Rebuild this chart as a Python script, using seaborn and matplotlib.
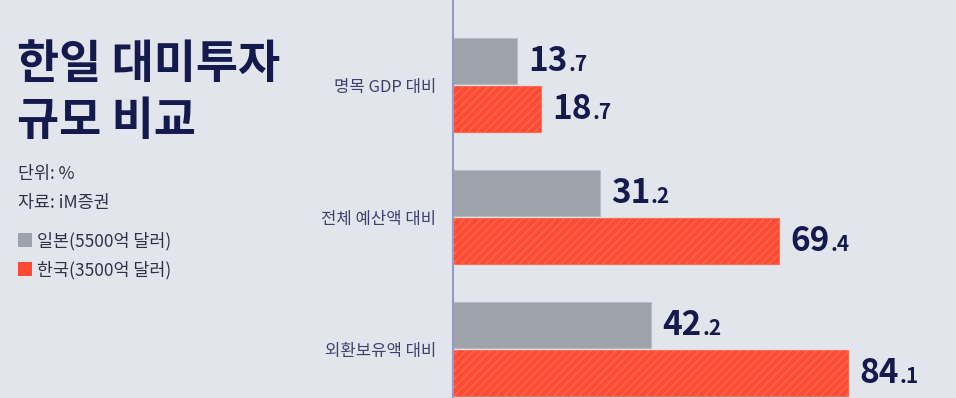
import pandas as pd
import seaborn as sns
import matplotlib.pyplot as plt
from matplotlib.patches import Rectangle

categories = ['명목 GDP 대비', '전체 예산액 대비', '외환보유액 대비']
japan = [13.7, 31.2, 42.2]
korea = [18.7, 69.4, 84.1]
series_names = ['일본(5500억 달러)', '한국(3500억 달러)']

W, H = 956, 398
BG = '#e3e5ec'
GRAY = '#9ea3ab'
RED = '#ff4a33'
NAVY = '#141a4e'

sns.set_theme(style='white')
plt.rcParams['font.family'] = ['Noto Sans CJK KR', 'DejaVu Sans']
plt.rcParams['hatch.linewidth'] = 1.0

df = pd.DataFrame({
    'category': categories * 2,
    'value': japan + korea,
    'country': [series_names[0]] * 3 + [series_names[1]] * 3,
})

fig = plt.figure(figsize=(W / 100, H / 100), dpi=100, facecolor=BG)
ax = fig.add_axes([453 / W, 0, 1 - 453 / W, 1])
ax.set_facecolor(BG)

sns.barplot(data=df, y='category', x='value', hue='country', orient='h',
            palette=[GRAY, RED], saturation=1, width=0.73, gap=0.05,
            legend=False, ax=ax)

# bar styling
for bar in ax.containers[0]:
    bar.set_edgecolor('#b8bcc4')
    bar.set_linewidth(0.8)
for bar in ax.containers[1]:
    bar.set_hatch('////')
    bar.set_edgecolor('#ff6a50')
    bar.set_linewidth(0.8)

ax.set_xlim(0, 107)
ax.set_ylim(2.371, -0.644)
ax.set_xlabel('')
ax.set_ylabel('')
ax.set_xticks([])
ax.tick_params(axis='y', length=0, pad=12, labelsize=12, labelcolor='#3b4272')
for s in ['top', 'right', 'bottom']:
    ax.spines[s].set_visible(False)
ax.spines['left'].set_color('#8f9cc6')
ax.spines['left'].set_linewidth(1.5)

# value labels: large integer part + smaller decimal part
for cont in ax.containers:
    for bar in cont:
        v = bar.get_width()
        yc = bar.get_y() + bar.get_height() / 2
        ip, dp = f'{v:.1f}'.split('.')
        t = ax.annotate(ip, xy=(v, yc), xytext=(8, -7), textcoords='offset points',
                        ha='left', va='baseline', fontsize=24, fontweight='black',
                        color=NAVY, annotation_clip=False)
        ax.annotate('.' + dp, xy=(1, yc), xycoords=(t, 'data'), xytext=(0.5, -7),
                    textcoords='offset points', ha='left', va='baseline',
                    fontsize=15, fontweight='bold', color=NAVY, annotation_clip=False)

# title block
fig.text(17 / W, 1 - 78 / H, '한일 대미투자', fontsize=33, fontweight='black', color=NAVY)
fig.text(17 / W, 1 - 135 / H, '규모 비교', fontsize=33, fontweight='black', color=NAVY)
fig.text(18 / W, 1 - 179 / H, '단위: %', fontsize=12.5, color='#2f3246')
fig.text(18 / W, 1 - 208 / H, '자료: iM증권', fontsize=12.5, color='#2f3246')

# legend
for i, (name, c) in enumerate(zip(series_names, [GRAY, RED])):
    top = 233 + i * 29
    fig.patches.append(Rectangle((18 / W, 1 - (top + 14) / H), 14 / W, 14 / H,
                                 transform=fig.transFigure, facecolor=c, edgecolor='none'))
    fig.text(37 / W, 1 - (top + 13) / H, name, fontsize=12.5, color='#2f3246')

fig.savefig('out.png', dpi=100, facecolor=BG)
